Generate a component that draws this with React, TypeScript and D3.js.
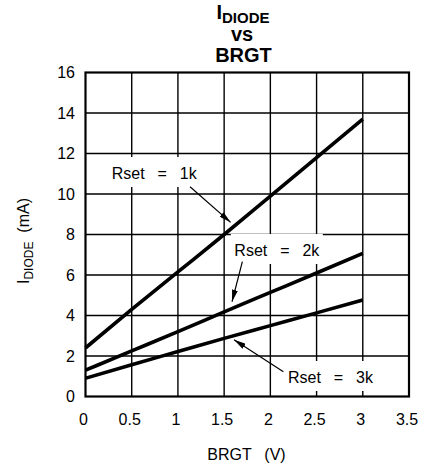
import React from "react";
import * as d3 from "d3";

const brgt = [0, 0.5, 1, 1.5, 2, 2.5, 3];
const rset1k = [2.4, 4.3, 6.15, 8.0, 9.9, 11.8, 13.7];
const rset2k = [1.3, 2.25, 3.2, 4.18, 5.14, 6.1, 7.07];
const rset3k = [0.9, 1.57, 2.22, 2.87, 3.5, 4.13, 4.77];
const xTicks = [0, 0.5, 1, 1.5, 2, 2.5, 3, 3.5];
const yTicks = [0, 2, 4, 6, 8, 10, 12, 14, 16];

// annotation text + arrow, in data units
const notes = [
  { label: "1k", tx: 0.744, ty: 10.74, ax1: 1.131, ay1: 10.36, ax2: 1.57, ay2: 8.6 },
  { label: "2k", tx: 2.07, ty: 6.94, ax1: 1.697, ay1: 6.66, ax2: 1.585, ay2: 4.68 },
  { label: "3k", tx: 2.65, ty: 0.667, ax1: 2.141, ay1: 1.22, ax2: 1.607, ay2: 2.8 },
];

const W = 424;
const H = 470;
const margin = { top: 72.5, right: 15, bottom: 73.5, left: 85.5 };

export default function App() {
  const x = d3
    .scaleLinear()
    .domain([0, 3.5])
    .range([margin.left, W - margin.right]);
  const y = d3
    .scaleLinear()
    .domain([0, 16])
    .range([H - margin.bottom, margin.top]);

  const line = d3
    .line<number>()
    .x((_d, i) => x(brgt[i]))
    .y((d) => y(d))
    .curve(d3.curveMonotoneX);

  const tickFont = "'Liberation Sans', Arial, sans-serif";

  return (
    <div style={{ position: "absolute", left: 0, top: 0 }}>
      <svg width={W} height={H} style={{ display: "block", background: "#fff" }}>
        <defs>
          <marker
            id="arrow"
            viewBox="0 0 12 6"
            refX="12"
            refY="3"
            markerWidth="12"
            markerHeight="6"
            markerUnits="userSpaceOnUse"
            orient="auto"
          >
            <path d="M0,0 L12,3 L0,6 Z" fill="#000" />
          </marker>
        </defs>

        {/* title */}
        <g
          fontFamily="'Liberation Sans', Arial, sans-serif"
          fontWeight="bold"
          textAnchor="middle"
          fill="#000"
        >
          <text x={243} y={18.5} fontSize={20}>
            I<tspan fontSize={15} dy={4}>DIODE</tspan>
          </text>
          <text x={242} y={40.5} fontSize={20}>
            vs
          </text>
          <text x={243.5} y={61.7} fontSize={20}>
            BRGT
          </text>
        </g>

        {/* grid */}
        <g stroke="#000" strokeWidth={1.4}>
          {xTicks.slice(1, -1).map((t) => (
            <line key={"gx" + t} x1={x(t)} x2={x(t)} y1={y(0)} y2={y(16)} />
          ))}
          {yTicks.slice(1, -1).map((t) => (
            <line key={"gy" + t} x1={x(0)} x2={x(3.5)} y1={y(t)} y2={y(t)} />
          ))}
        </g>

        {/* label backgrounds break the grid */}
        <g fill="#fff">
          {notes.map((n) => (
            <rect
              key={"bg" + n.label}
              x={x(n.tx) - 46}
              y={y(n.ty) - 22}
              width={92}
              height={30}
            />
          ))}
        </g>

        <rect
          x={x(0)}
          y={y(16)}
          width={x(3.5) - x(0)}
          height={y(0) - y(16)}
          fill="none"
          stroke="#000"
          strokeWidth={2.2}
        />

        {/* curves */}
        <g fill="none" stroke="#000" strokeWidth={3.6} strokeLinecap="butt">
          {[rset1k, rset2k, rset3k].map((s, i) => (
            <path key={"s" + i} d={line(s) || ""} />
          ))}
        </g>

        {/* annotations */}
        <g fontFamily={tickFont} fontSize={16} fill="#000">
          {notes.map((n) => (
            <g key={"n" + n.label}>
              <text
                x={x(n.tx)}
                y={y(n.ty)}
                textAnchor="middle"
                wordSpacing={2}
                style={{ whiteSpace: "pre" }}
              >
                {"Rset  =  " + n.label}
              </text>
              <line
                x1={x(n.ax1)}
                y1={y(n.ay1)}
                x2={x(n.ax2)}
                y2={y(n.ay2)}
                stroke="#000"
                strokeWidth={1.2}
                markerEnd="url(#arrow)"
              />
            </g>
          ))}
        </g>

        {/* axes labels */}
        <g fontFamily={tickFont} fontSize={16} fill="#000">
          {xTicks.map((t) => (
            <text key={"xt" + t} x={x(t) - 2} y={425} textAnchor="middle">
              {t}
            </text>
          ))}
          {yTicks.map((t) => (
            <text
              key={"yt" + t}
              x={75}
              y={y(t)}
              textAnchor="end"
              dominantBaseline="central"
            >
              {t}
            </text>
          ))}
          <text
            x={246.5}
            y={460}
            textAnchor="middle"
            wordSpacing={2}
            style={{ whiteSpace: "pre" }}
          >
            {"BRGT  (V)"}
          </text>
          <text
            transform={`translate(28.5,${241}) rotate(-90)`}
            textAnchor="middle"
            style={{ whiteSpace: "pre" }}
          >
            I<tspan fontSize={12} dy={4.5}>DIODE</tspan>
            <tspan dy={-4.5}>{"  (mA)"}</tspan>
          </text>
        </g>
      </svg>
    </div>
  );
}
